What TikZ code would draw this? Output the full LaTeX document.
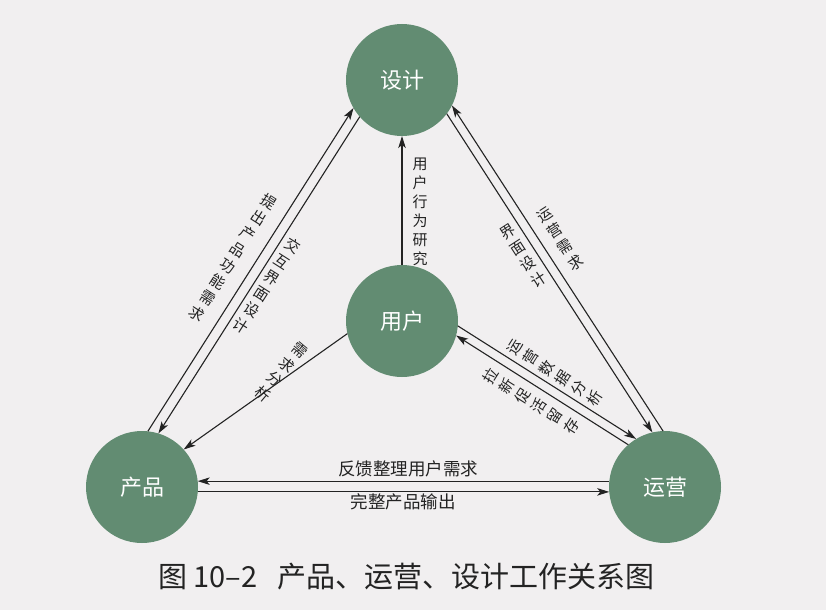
\documentclass[tikz,border=0pt]{standalone}
\usepackage{fontspec}
\newfontfamily\cjk{Noto Sans CJK SC}
\usetikzlibrary{arrows.meta}
\definecolor{bgc}{RGB}{241,239,240}
\definecolor{circ}{RGB}{98,140,114}
\definecolor{ink}{RGB}{35,35,35}
\tikzset{
  hub/.style={circle, fill=circ, minimum size=112pt, inner sep=0pt, outer sep=0pt, text=white, font=\cjk\fontsize{22}{22}\selectfont},
  link/.style={draw=ink, line width=1.1pt, -{Stealth[length=12pt,width=7.5pt,inset=3pt]}},
  lab/.style={text=ink, font=\cjk\fontsize{15}{19}\selectfont, inner sep=0pt, align=center},
  hlab/.style={text=ink, font=\cjk\fontsize{17.5}{17.5}\selectfont, inner sep=0pt},
}
\begin{document}
\begin{tikzpicture}[x=1pt,y=-1pt]
\path[use as bounding box, fill=bgc] (0,0) rectangle (826,610);
\node[hub] (D) at (402,80) {设计};
\node[hub] (U) at (402,321) {用户};
\node[hub] (P) at (142,487) {产品};
\node[hub] (O) at (665,487) {运营};
% product - design
\draw[link] (P.84) -- (D.210.9);
\draw[link] (D.221.9) -- (P.73);
% design - operations
\draw[link] (O.92.9) -- (D.-27.1);
\draw[link] (D.-37.3) -- (O.103);
% user - operations
\draw[link] (U.-5.7) -- (O.121.2);
\draw[link] (O.131.1) -- (U.-15.7);
% user - product
\draw[link] (U.193) -- (P.42);
% user - design
\draw[link] (U.90) -- (D.-90);
% product - operations
\draw[link] (O.174) -- (P.6);
\draw[link] (P.-5) -- (O.-175);
% labels
\node[lab, rotate=-32.6] (l1) at (233,258) {提\\出\\产\\品\\功\\能\\需\\求};
\node[lab, rotate=-32.6] (l2) at (267,286) {交\\互\\界\\面\\设\\计};
\node[lab, rotate=32.9] (l3) at (560,239) {运\\营\\需\\求};
\node[lab, rotate=32.9] (l4) at (523,256) {界\\面\\设\\计};
\node[lab] (l5) at (420,212) {用\\户\\行\\为\\研\\究};
\node[lab, rotate=-40] (l6) at (281,372) {需\\求\\分\\析};
\node[lab, rotate=57.7] (l7) at (555,373) {运\\营\\数\\据\\分\\析};
\node[lab, rotate=57.7] (l8) at (531,401) {拉\\新\\促\\活\\留\\存};
\node[hlab] (l9) at (408,469) {反馈整理用户需求};
\node[hlab] (l10) at (403,502) {完整产品输出};
\node[anchor=west, inner sep=0pt, text=ink, font=\cjk\fontsize{29}{29}\selectfont] (cap) at (158,577) {图 10–2\hspace{20pt}产品、运营、设计工作关系图};
\end{tikzpicture}
\end{document}
